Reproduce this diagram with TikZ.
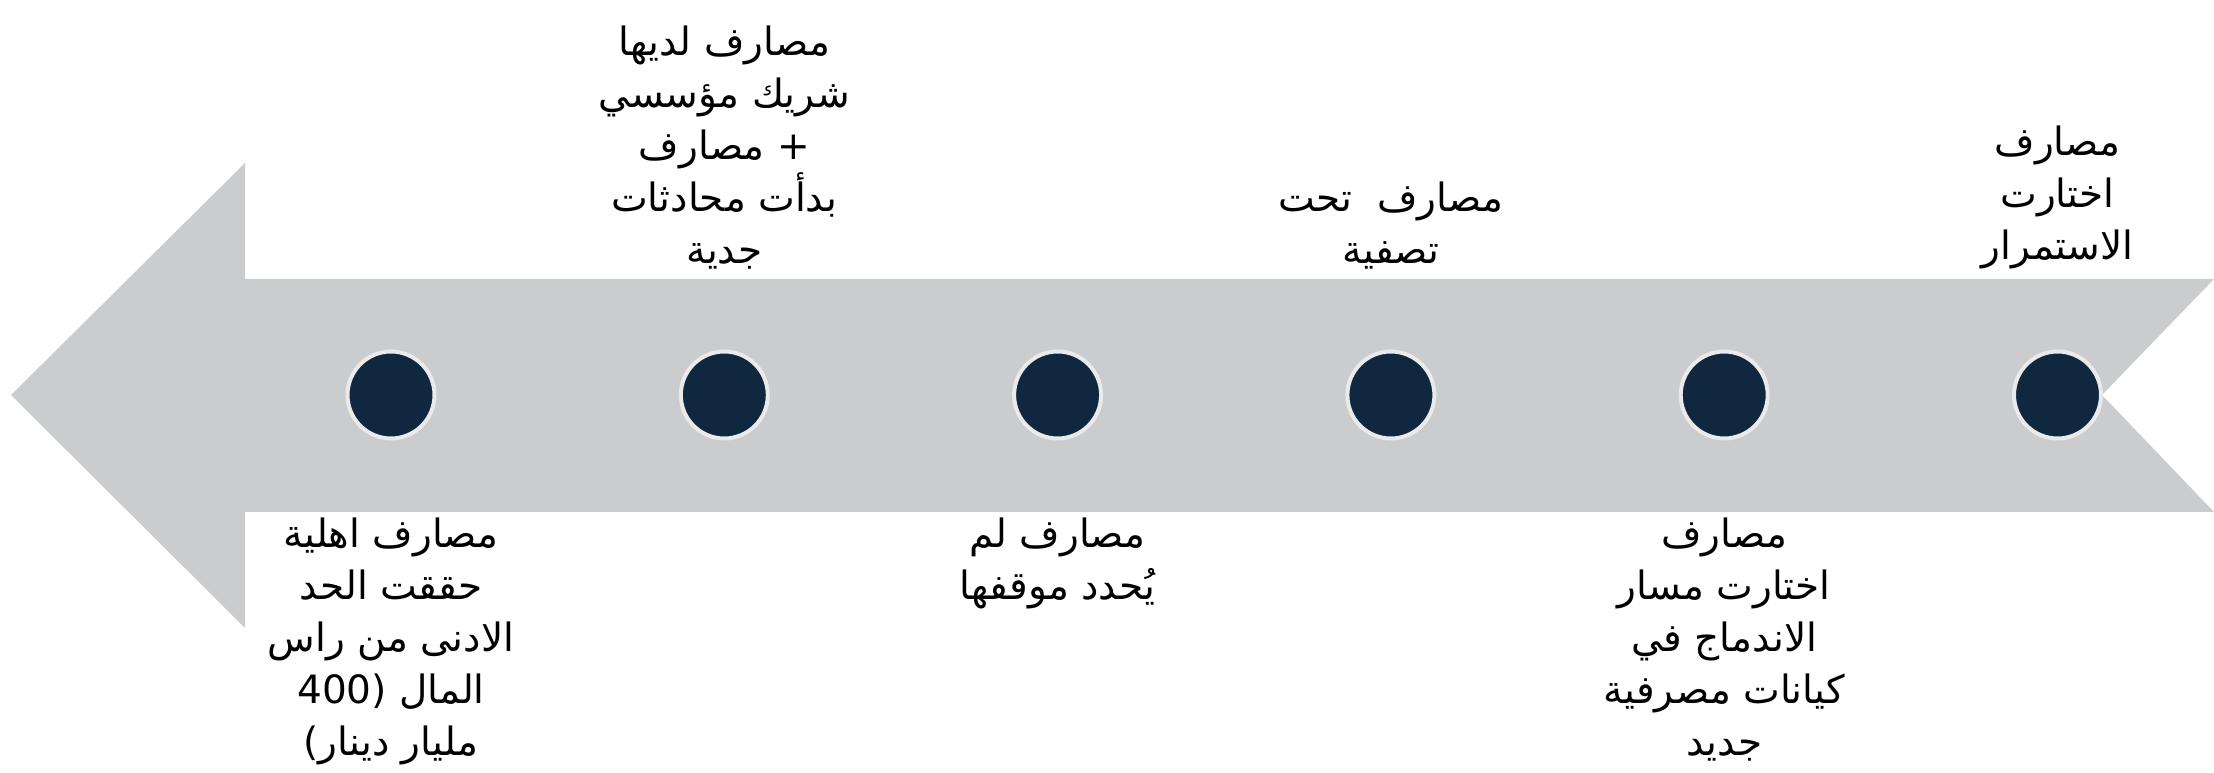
\documentclass[tikz,border=0pt]{standalone}
\usepackage{fontspec}
\usepackage{tikz}
\usetikzlibrary{positioning}
\TeXXeTstate=1
\newfontfamily\arabicfont[Script=Arabic]{DejaVu Sans}
\definecolor{arrowgray}{HTML}{CBCCCE}
\definecolor{dotnavy}{HTML}{10283F}
\definecolor{dotring}{HTML}{EAEAEA}

\begin{document}
\begin{tikzpicture}[y=1pt, x=1pt, inner sep=0pt, outer sep=0pt,
dot/.style={circle, fill=dotnavy, draw=dotring, line width=4pt, minimum size=87pt},
lbl/.style={align=center, font=\arabicfont\fontsize{39}{52}\selectfont}]
\useasboundingbox (0,0) rectangle (2214,773);
\fill[arrowgray] (11,378) -- (245,610) -- (245,494) -- (2214,494) -- (2102,378)
  -- (2214,261) -- (245,261) -- (245,145) -- cycle;
\node[dot](C1) at (391,378) {};
\node[dot](C2)[right = 246.3pt of C1] {};
\node[dot](C3)[right = 246.3pt of C2] {};
\node[dot](C4)[right = 246.3pt of C3] {};
\node[dot](C5)[right = 246.3pt of C4] {};
\node[dot](C6)[right = 246.3pt of C5] {};
\node[lbl](T1)[below = 79pt of C1] {\beginR مصارف اهلية\endR\\ \beginR حققت الحد\endR\\
  \beginR الادنى من راس\endR\\ \beginR المال (400\endR\\ \beginR مليار دينار)\endR};
\node[lbl](T2)[above = 82pt of C2] {\beginR مصارف لديها\endR\\ \beginR شريك مؤسسي\endR\\
  \beginR + مصارف\endR\\ \beginR بدأت محادثات\endR\\ \beginR جدية\endR};
\node[lbl](T3)[below = 79pt of C3] {\beginR مصارف لم\endR\\ \beginR يُحدد موقفها\endR};
\node[lbl](T4)[above = 82pt of C4] {\beginR مصارف\ \ تحت\endR\\ \beginR تصفية\endR};
\node[lbl](T5)[below = 79pt of C5] {\beginR مصارف\endR\\ \beginR اختارت مسار\endR\\
  \beginR الاندماج في\endR\\ \beginR كيانات مصرفية\endR\\ \beginR جديد\endR};
\node[lbl](T6)[above = 82pt of C6] {\beginR مصارف\endR\\ \beginR اختارت\endR\\ \beginR الاستمرار\endR};
\end{tikzpicture}
\end{document}
